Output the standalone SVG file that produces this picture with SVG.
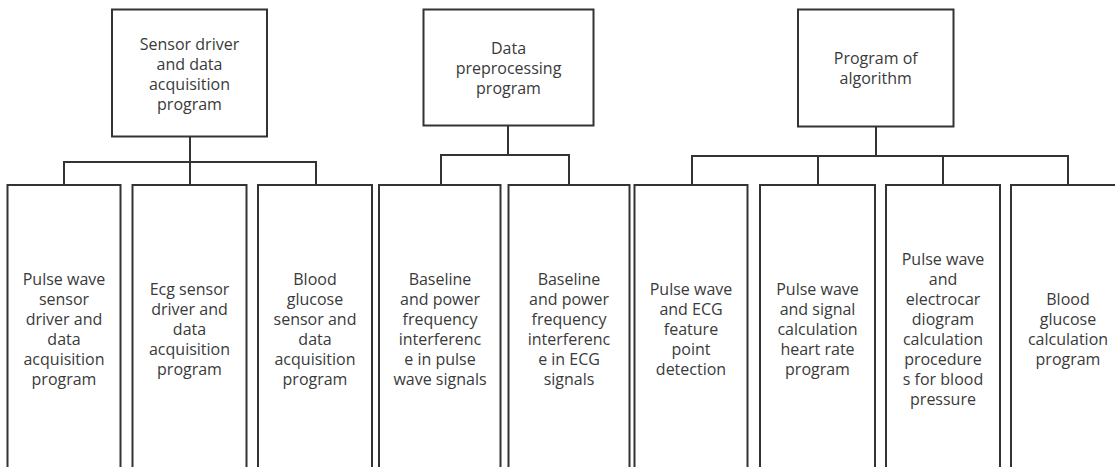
<svg xmlns="http://www.w3.org/2000/svg" width="1115" height="467" viewBox="0 0 1115 467">
<style>
.box{fill:#fff;stroke:#333;stroke-width:2}
.lbl{font-family:"Open Sans","Noto Sans",sans-serif;font-size:16px;fill:#3a3a3a;text-anchor:middle}
.con{fill:none;stroke:#333;stroke-width:2}
</style>
<rect width="1115" height="467" fill="#fff"/>
<g id="connectors">
<path class="con" d="M190 137V162M64 185V162H316V185M190 162V185"/>
<path class="con" d="M508 126V155M441 185V155H569V185"/>
<path class="con" d="M876 127V156M692 185V156H1068V185M818 156V185M943 156V185"/>
</g>
<g id="top1"><rect class="box" x="112" y="9.5" width="155" height="127"/>
<text class="lbl" y="50.3"><tspan x="189.5">Sensor driver</tspan><tspan x="189.5" dy="20">and data</tspan><tspan x="189.5" dy="20">acquisition</tspan><tspan x="189.5" dy="20">program</tspan></text></g>
<g id="top2"><rect class="box" x="423.5" y="9.5" width="170" height="116"/>
<text class="lbl" y="54.3"><tspan x="508.5">Data</tspan><tspan x="508.5" dy="20">preprocessing</tspan><tspan x="508.5" dy="20">program</tspan></text></g>
<g id="top3"><rect class="box" x="798" y="9.5" width="155.5" height="117"/>
<text class="lbl" y="64.3"><tspan x="875.7">Program of</tspan><tspan x="875.7" dy="20">algorithm</tspan></text></g>
<g id="c1"><rect class="box" x="7.5" y="185" width="113" height="300"/>
<text class="lbl" y="285.3"><tspan x="64">Pulse wave</tspan><tspan x="64" dy="20">sensor</tspan><tspan x="64" dy="20">driver and</tspan><tspan x="64" dy="20">data</tspan><tspan x="64" dy="20">acquisition</tspan><tspan x="64" dy="20">program</tspan></text></g>
<g id="c2"><rect class="box" x="132.5" y="185" width="114" height="300"/>
<text class="lbl" y="295.3"><tspan x="189.5">Ecg sensor</tspan><tspan x="189.5" dy="20">driver and</tspan><tspan x="189.5" dy="20">data</tspan><tspan x="189.5" dy="20">acquisition</tspan><tspan x="189.5" dy="20">program</tspan></text></g>
<g id="c3"><rect class="box" x="258" y="185" width="114" height="300"/>
<text class="lbl" y="285.3"><tspan x="315">Blood</tspan><tspan x="315" dy="20">glucose</tspan><tspan x="315" dy="20">sensor and</tspan><tspan x="315" dy="20">data</tspan><tspan x="315" dy="20">acquisition</tspan><tspan x="315" dy="20">program</tspan></text></g>
<g id="c4"><rect class="box" x="379" y="185" width="121.5" height="300"/>
<text class="lbl" y="285.3"><tspan x="440">Baseline</tspan><tspan x="440" dy="20">and power</tspan><tspan x="440" dy="20">frequency</tspan><tspan x="440" dy="20">interferenc</tspan><tspan x="440" dy="20">e in pulse</tspan><tspan x="440" dy="20">wave signals</tspan></text></g>
<g id="c5"><rect class="box" x="508.5" y="185" width="121" height="300"/>
<text class="lbl" y="285.3"><tspan x="569">Baseline</tspan><tspan x="569" dy="20">and power</tspan><tspan x="569" dy="20">frequency</tspan><tspan x="569" dy="20">interferenc</tspan><tspan x="569" dy="20">e in ECG</tspan><tspan x="569" dy="20">signals</tspan></text></g>
<g id="c6"><rect class="box" x="634.5" y="185" width="113" height="300"/>
<text class="lbl" y="295.3"><tspan x="691">Pulse wave</tspan><tspan x="691" dy="20">and ECG</tspan><tspan x="691" dy="20">feature</tspan><tspan x="691" dy="20">point</tspan><tspan x="691" dy="20">detection</tspan></text></g>
<g id="c7"><rect class="box" x="760" y="185" width="115" height="300"/>
<text class="lbl" y="295.3"><tspan x="817.5">Pulse wave</tspan><tspan x="817.5" dy="20">and signal</tspan><tspan x="817.5" dy="20">calculation</tspan><tspan x="817.5" dy="20">heart rate</tspan><tspan x="817.5" dy="20">program</tspan></text></g>
<g id="c8"><rect class="box" x="886" y="185" width="114" height="300"/>
<text class="lbl" y="265.3"><tspan x="943">Pulse wave</tspan><tspan x="943" dy="20">and</tspan><tspan x="943" dy="20">electrocar</tspan><tspan x="943" dy="20">diogram</tspan><tspan x="943" dy="20">calculation</tspan><tspan x="943" dy="20">procedure</tspan><tspan x="943" dy="20">s for blood</tspan><tspan x="943" dy="20">pressure</tspan></text></g>
<g id="c9"><rect class="box" x="1011" y="185" width="114" height="300"/>
<text class="lbl" y="305.3"><tspan x="1068">Blood</tspan><tspan x="1068" dy="20">glucose</tspan><tspan x="1068" dy="20">calculation</tspan><tspan x="1068" dy="20">program</tspan></text></g>
</svg>
